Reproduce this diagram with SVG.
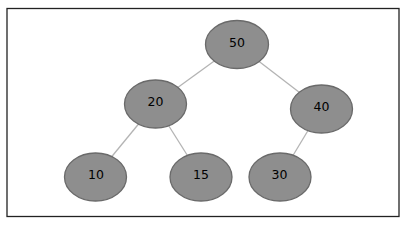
<svg xmlns="http://www.w3.org/2000/svg" width="407" height="227" viewBox="0 0 407 227">
<style>
.node ellipse{fill:#8e8e8e;stroke:#6a6a6a;stroke-width:1.3}
.node text{font-family:"DejaVu Sans",Verdana,sans-serif;font-size:12.5px;fill:#000;text-anchor:middle}
#edges line{stroke:#b4b4b4;stroke-width:1.3}
</style>
<rect x="7" y="8.5" width="392" height="208" fill="#fff" stroke="#222" stroke-width="1.3"/>
<g id="edges">
<line x1="237" y1="44.5" x2="155" y2="104"/>
<line x1="237" y1="44.5" x2="321" y2="109"/>
<line x1="155" y1="104" x2="95" y2="177"/>
<line x1="155" y1="104" x2="201" y2="177"/>
<line x1="321" y1="109" x2="280" y2="177"/>
</g>
<g id="n50" class="node"><ellipse cx="237" cy="44.5" rx="31.5" ry="24"/><text x="237" y="46.5">50</text></g>
<g id="n20" class="node"><ellipse cx="155.5" cy="104" rx="31" ry="24"/><text x="155.5" y="106">20</text></g>
<g id="n40" class="node"><ellipse cx="321.5" cy="109" rx="31" ry="24"/><text x="321.5" y="110.5">40</text></g>
<g id="n10" class="node"><ellipse cx="95.5" cy="177" rx="31" ry="24"/><text x="96" y="178.5">10</text></g>
<g id="n15" class="node"><ellipse cx="201" cy="177" rx="31" ry="24"/><text x="201" y="178.5">15</text></g>
<g id="n30" class="node"><ellipse cx="280" cy="177" rx="31" ry="24"/><text x="279.5" y="178.5">30</text></g>
</svg>
